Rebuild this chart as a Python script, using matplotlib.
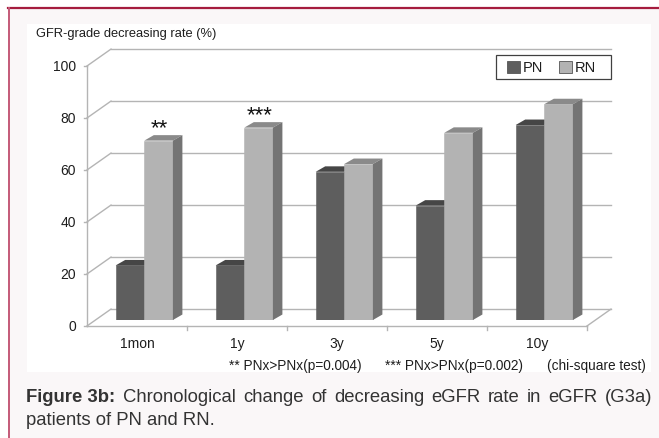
import numpy as np
import matplotlib
matplotlib.use("Agg")
import matplotlib.pyplot as plt
from matplotlib.patches import Rectangle, Polygon
from matplotlib.lines import Line2D

plt.rcParams['font.family'] = ['Liberation Sans', 'DejaVu Sans']

# data: GFR-grade decreasing rate (%)
periods = ['1mon', '1y', '3y', '5y', '10y']
pn_rate = [21, 21, 57, 44, 75]
rn_rate = [69, 74, 60, 72, 83]
yticks = [0, 20, 40, 60, 80, 100]
marks = {0: '**', 1: '***'}
series = ['PN', 'RN']

W = 0.286              # width of one bar (category units)
BAR_D = (0.095, 2.1)   # bar depth (top/side faces)
FRONT = (-0.073, -2.3) # floor front edge relative to bar faces
BACK = (0.167, 4.2)    # back wall relative to bar faces

PN_COL = dict(front='#5e5e5e', top='#464646', side='#4e4e4e')
RN_COL = dict(front='#b3b3b3', top='#8a8a8a', side='#747474')
GRID = '#b4b4b4'
TXT = '#1e1e1e'

W_PX, H_PX = 659, 439
fig = plt.figure(figsize=(W_PX / 100, H_PX / 100), dpi=100)
fig.patch.set_facecolor('white')


def fx(x):
    return x / W_PX


def fy(y):
    return 1 - y / H_PX


# page background, border and white chart panel
fig.add_artist(Rectangle((fx(9), 0), 1 - fx(9), fy(9), transform=fig.transFigure,
                         facecolor='#faf7f8', edgecolor='none', zorder=0))
fig.add_artist(Line2D([fx(8), 1], [fy(9), fy(9)], transform=fig.transFigure,
                      color='#a51c3e', lw=1.6, zorder=1))
fig.add_artist(Line2D([fx(8.5), fx(8.5)], [0, fy(9)], transform=fig.transFigure,
                      color='#c45a78', lw=1.4, zorder=1))
fig.add_artist(Rectangle((fx(27), fy(373)), fx(651 - 27), (373 - 25) / H_PX,
                         transform=fig.transFigure, facecolor='white',
                         edgecolor='none', zorder=1))

ax = fig.add_axes([94.3 / W_PX, 118 / H_PX, 500 / W_PX, 260 / H_PX])
ax.set_xlim(-0.5, 4.5)
ax.set_ylim(0, 100)
ax.axis('off')
ax.set_zorder(2)

n = len(periods)
x = np.arange(n)
left, right = -0.5, n - 0.5

# back wall gridlines and side wall diagonals
for v in yticks:
    ax.plot([left + BACK[0], right + BACK[0]], [v + BACK[1]] * 2,
            color=GRID, lw=1.0, clip_on=False, zorder=1)
    ax.plot([left + FRONT[0], left + BACK[0]], [v + FRONT[1], v + BACK[1]],
            color=GRID, lw=1.0, clip_on=False, zorder=1)
    ax.plot([left + FRONT[0] - 0.03, left + FRONT[0]], [v + FRONT[1]] * 2,
            color=GRID, lw=1.0, clip_on=False, zorder=1)
    ax.text(left + FRONT[0] - 0.11, v + FRONT[1], str(v), ha='right', va='center',
            fontsize=10, color=TXT)

# left axis, floor front edge and right floor edge
ax.plot([left + FRONT[0]] * 2, [FRONT[1], 100 + FRONT[1]], color=GRID, lw=1.0,
        clip_on=False, zorder=1)
ax.plot([left + FRONT[0], right + FRONT[0]], [FRONT[1]] * 2, color=GRID, lw=1.0,
        clip_on=False, zorder=1)
ax.plot([right + FRONT[0], right + BACK[0]], [FRONT[1], BACK[1]], color=GRID,
        lw=1.0, clip_on=False, zorder=1)
for b in np.arange(n) + 0.5:
    ax.plot([b + FRONT[0]] * 2, [FRONT[1], FRONT[1] - 1.4], color=GRID, lw=1.0,
            clip_on=False, zorder=1)

for i, lab in enumerate(periods):
    ax.text(i + FRONT[0], FRONT[1] - 6.6, lab, ha='center', va='center',
            fontsize=10, color=TXT)


def bar3d(x0, v, col, z):
    x1 = x0 + W
    dx, dy = BAR_D
    ax.bar(x0, v, width=W, align='edge', color=col['front'],
           edgecolor=col['front'], lw=0.4, zorder=z)
    ax.add_patch(Polygon([(x0, v), (x1, v), (x1 + dx, v + dy), (x0 + dx, v + dy)],
                         closed=True, facecolor=col['top'], edgecolor='none',
                         zorder=z, clip_on=False))
    ax.add_patch(Polygon([(x1, 0), (x1 + dx, dy), (x1 + dx, v + dy), (x1, v)],
                         closed=True, facecolor=col['side'], edgecolor='none',
                         zorder=z, clip_on=False))


for i in range(n):
    bar3d(x[i] - W, pn_rate[i], PN_COL, 3 + 2 * i)
    bar3d(x[i], rn_rate[i], RN_COL, 4 + 2 * i)

for i, s in marks.items():
    ax.text(x[i] + W / 2 + 0.01, rn_rate[i] + 3.0, s, ha='center', va='baseline',
            fontsize=16, color='#111111', zorder=20)

# axis title
fig.text(fx(36), fy(34), 'GFR-grade decreasing rate (%)', ha='left', va='center',
         fontsize=9.3, color=TXT, zorder=3)

# legend box drawn by hand
fig.add_artist(Rectangle((fx(496), fy(80)), fx(611 - 496), (80 - 56) / H_PX,
                         transform=fig.transFigure, facecolor='white',
                         edgecolor='#404040', lw=0.9, zorder=30))
for name, col, sx in zip(series, [PN_COL, RN_COL], [507, 559]):
    fig.add_artist(Rectangle((fx(sx), fy(74)), fx(12.5), 12 / H_PX,
                             transform=fig.transFigure, facecolor=col['front'],
                             edgecolor='#555555', lw=0.6, zorder=31))
    fig.text(fx(sx + 16), fy(68), name, ha='left', va='center', fontsize=10.5,
             color=TXT, zorder=31)

# significance footnote
fig.text(fx(229), fy(366), '** PNx>PNx(p=0.004)', ha='left', va='center',
         fontsize=9.8, color=TXT, zorder=3)
fig.text(fx(385), fy(366), '*** PNx>PNx(p=0.002)', ha='left', va='center',
         fontsize=9.8, color=TXT, zorder=3)
fig.text(fx(646), fy(366), '(chi-square test)', ha='right', va='center',
         fontsize=9.8, color=TXT, zorder=3)

# caption, first line justified to the panel edge
renderer = fig.canvas.get_renderer()
cap = fig.text(fx(26), fy(398), 'Figure 3b:', ha='left', va='center',
               fontsize=13.3, fontweight='bold', color='#333333', zorder=3)
words = 'Chronological change of decreasing eGFR rate in eGFR (G3a)'.split()
wtxt = [fig.text(0, fy(398), w, ha='left', va='center', fontsize=13.3,
                 color='#333333', zorder=3) for w in words]
widths = [t.get_window_extent(renderer).width for t in wtxt]
start, end = 123.5, 652
gap = (end - start - sum(widths)) / (len(words) - 1)
pos = start
for t, w in zip(wtxt, widths):
    t.set_x(fx(pos))
    pos += w + gap
fig.text(fx(26), fy(421), 'patients of PN and RN.', ha='left', va='center',
         fontsize=13.3, color='#333333', zorder=3)

fig.savefig('out.png', dpi=100)
